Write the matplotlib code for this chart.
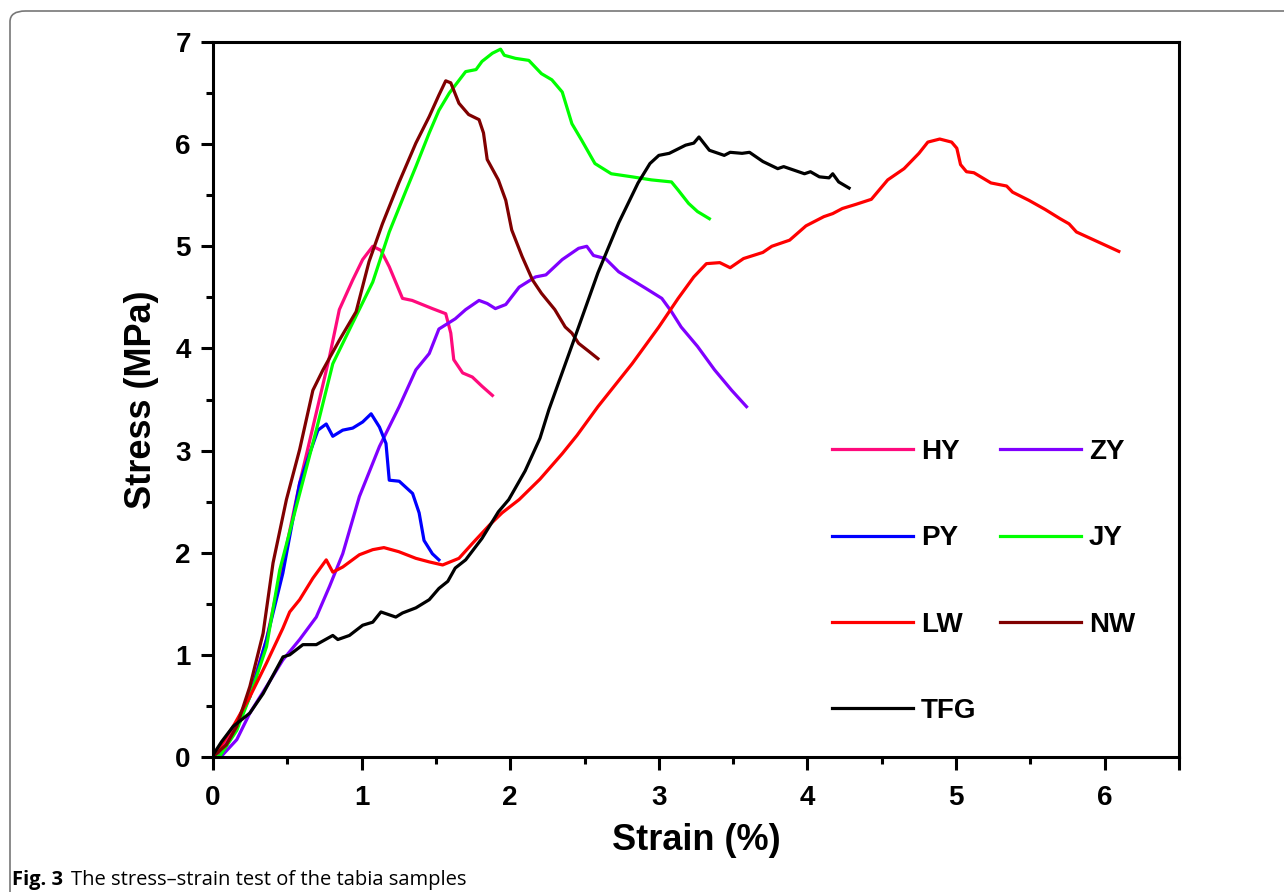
import matplotlib
matplotlib.use("Agg")
import matplotlib.pyplot as plt
from matplotlib.patches import FancyBboxPatch
from matplotlib.ticker import MultipleLocator

# strain (%) / stress (MPa)
hy_x = [0.0, 0.025, 0.136, 0.248, 0.36, 0.494, 0.583, 0.695, 0.784, 0.85, 0.94, 1.007, 1.075,
        1.13, 1.186, 1.275, 1.34, 1.476, 1.566, 1.60, 1.62, 1.68, 1.745, 1.81, 1.88]
hy_y = [0.0, 0.01, 0.26, 0.62, 1.15, 2.06, 2.68, 3.37, 3.92, 4.38, 4.67, 4.87, 5.00,
        4.96, 4.80, 4.49, 4.47, 4.39, 4.34, 4.15, 3.89, 3.76, 3.72, 3.63, 3.54]

zy_x = [0.0, 0.058, 0.16, 0.248, 0.36, 0.47, 0.583, 0.695, 0.784, 0.873, 0.985, 1.12, 1.253,
        1.365, 1.455, 1.52, 1.63, 1.70, 1.79, 1.845, 1.90, 1.97, 2.06, 2.17, 2.24, 2.35,
        2.46, 2.515, 2.56, 2.64, 2.73, 2.82, 2.91, 3.02, 3.085, 3.15, 3.26, 3.375, 3.49, 3.59]
zy_y = [0.0, 0.01, 0.17, 0.43, 0.69, 0.95, 1.15, 1.37, 1.67, 1.99, 2.55, 3.04, 3.43,
        3.79, 3.95, 4.19, 4.29, 4.38, 4.47, 4.44, 4.39, 4.43, 4.60, 4.70, 4.72, 4.87,
        4.98, 5.00, 4.91, 4.88, 4.75, 4.67, 4.59, 4.49, 4.36, 4.21, 4.02, 3.79, 3.59, 3.43]

py_x = [0.0, 0.047, 0.136, 0.248, 0.36, 0.47, 0.583, 0.65, 0.706, 0.762, 0.806, 0.873, 0.94,
        1.007, 1.064, 1.12, 1.164, 1.186, 1.253, 1.343, 1.387, 1.42, 1.476, 1.52]
py_y = [0.0, 0.01, 0.23, 0.59, 1.15, 1.80, 2.68, 2.97, 3.20, 3.26, 3.14, 3.20, 3.22,
        3.28, 3.36, 3.23, 3.07, 2.71, 2.70, 2.58, 2.39, 2.12, 1.99, 1.93]

jy_x = [0.0, 0.047, 0.16, 0.248, 0.36, 0.449, 0.56, 0.695, 0.806, 0.94, 1.075, 1.186, 1.30,
        1.365, 1.455, 1.52, 1.59, 1.70, 1.77, 1.81, 1.88, 1.935, 1.96, 2.035, 2.125, 2.21,
        2.28, 2.35, 2.415, 2.48, 2.57, 2.68, 2.82, 2.95, 3.085, 3.13, 3.20, 3.26, 3.34]
jy_y = [0.0, 0.01, 0.26, 0.59, 1.08, 1.83, 2.45, 3.20, 3.85, 4.25, 4.65, 5.14, 5.55,
        5.78, 6.11, 6.33, 6.50, 6.71, 6.73, 6.81, 6.89, 6.93, 6.87, 6.84, 6.82, 6.69,
        6.63, 6.51, 6.20, 6.04, 5.81, 5.71, 5.68, 5.65, 5.63, 5.55, 5.42, 5.34, 5.27]

lw_x = [0.0, 0.136, 0.248, 0.36, 0.47, 0.516, 0.583, 0.672, 0.762, 0.806, 0.873, 0.985, 1.075,
        1.15, 1.25, 1.365, 1.455, 1.545, 1.655, 1.745, 1.86, 1.945, 2.06, 2.2, 2.35, 2.45,
        2.59, 2.82, 3.00, 3.13, 3.235, 3.32, 3.41, 3.48, 3.57, 3.70, 3.76, 3.88, 3.99, 4.11,
        4.17, 4.235, 4.325, 4.43, 4.54, 4.65, 4.75, 4.81, 4.89, 4.97, 5.005, 5.03, 5.07,
        5.12, 5.235, 5.34, 5.38, 5.49, 5.60, 5.70, 5.76, 5.81, 5.90, 6.005, 6.095]
lw_y = [0.0, 0.30, 0.59, 0.92, 1.26, 1.42, 1.54, 1.75, 1.93, 1.81, 1.86, 1.98, 2.03,
        2.05, 2.01, 1.945, 1.91, 1.88, 1.945, 2.09, 2.27, 2.39, 2.52, 2.72, 2.97, 3.15,
        3.43, 3.85, 4.21, 4.49, 4.70, 4.83, 4.84, 4.79, 4.88, 4.94, 5.00, 5.06, 5.20, 5.29,
        5.32, 5.37, 5.41, 5.46, 5.65, 5.76, 5.91, 6.02, 6.05, 6.02, 5.96, 5.80, 5.73,
        5.72, 5.62, 5.59, 5.53, 5.45, 5.36, 5.27, 5.22, 5.14, 5.08, 5.01, 4.95]

nw_x = [0.0, 0.013, 0.09, 0.16, 0.248, 0.337, 0.404, 0.494, 0.583, 0.672, 0.74, 0.85, 0.963,
        1.05, 1.14, 1.25, 1.365, 1.455, 1.52, 1.566, 1.60, 1.655, 1.72, 1.79, 1.82, 1.845,
        1.92, 1.97, 2.01, 2.08, 2.15, 2.21, 2.30, 2.37, 2.415, 2.46, 2.53, 2.59]
nw_y = [0.0, 0.02, 0.12, 0.30, 0.69, 1.21, 1.90, 2.52, 3.01, 3.59, 3.79, 4.08, 4.36,
        4.85, 5.22, 5.62, 6.01, 6.27, 6.48, 6.62, 6.60, 6.40, 6.29, 6.24, 6.11, 5.85,
        5.65, 5.45, 5.16, 4.90, 4.67, 4.54, 4.38, 4.21, 4.15, 4.05, 3.97, 3.90]

tfg_x = [0.0, 0.058, 0.136, 0.248, 0.337, 0.471, 0.516, 0.605, 0.695, 0.806, 0.84, 0.918,
         1.007, 1.075, 1.13, 1.23, 1.275, 1.365, 1.455, 1.52, 1.58, 1.63, 1.70, 1.81, 1.92,
         1.99, 2.1, 2.2, 2.26, 2.46, 2.59, 2.73, 2.86, 2.94, 3.00, 3.07, 3.18, 3.235, 3.27,
         3.34, 3.44, 3.48, 3.56, 3.61, 3.70, 3.80, 3.84, 3.90, 3.98, 4.02, 4.08, 4.145,
         4.17, 4.21, 4.28]
tfg_y = [0.02, 0.15, 0.30, 0.43, 0.62, 0.98, 1.00, 1.10, 1.10, 1.19, 1.15, 1.19,
         1.29, 1.32, 1.42, 1.37, 1.41, 1.46, 1.54, 1.65, 1.72, 1.85, 1.93, 2.14, 2.40,
         2.52, 2.80, 3.12, 3.40, 4.21, 4.74, 5.23, 5.62, 5.81, 5.89, 5.91, 5.99, 6.01, 6.07,
         5.94, 5.89, 5.92, 5.91, 5.92, 5.83, 5.76, 5.78, 5.75, 5.71, 5.73, 5.68, 5.67,
         5.71, 5.63, 5.57]

names = ["HY", "ZY", "PY", "JY", "LW", "NW", "TFG"]
colors = ["#FF0A7C", "#8000FF", "#0000FF", "#00FF00", "#FF0000", "#800000", "#000000"]
series = [(hy_x, hy_y), (zy_x, zy_y), (py_x, py_y), (jy_x, jy_y),
          (lw_x, lw_y), (nw_x, nw_y), (tfg_x, tfg_y)]

plt.rcParams['font.family'] = ['Liberation Sans', 'DejaVu Sans']
plt.rcParams['font.weight'] = 'bold'

W, H = 1284, 892
fig = plt.figure(figsize=(W / 100, H / 100), dpi=100)
ax = fig.add_axes([213 / W, 1 - 757 / H, (1179 - 213) / W, (757 - 42) / H])

lines = {}
for name, col, (xs, ys) in zip(names, colors, series):
    lines[name], = ax.plot(xs, ys, color=col, lw=2.3, label=name)

ax.set_xlim(0, 6.5)
ax.set_ylim(0, 7)
ax.xaxis.set_minor_locator(MultipleLocator(0.5))
ax.yaxis.set_major_locator(MultipleLocator(1))
ax.yaxis.set_minor_locator(MultipleLocator(0.5))
ax.set_xticks([0, 1, 2, 3, 4, 5, 6, 6.5])
ax.set_xticklabels(["0", "1", "2", "3", "4", "5", "6", ""])
ax.tick_params(which='major', direction='out', length=9, width=2.2, labelsize=20, pad=7)
ax.tick_params(which='minor', direction='out', length=5, width=2.2)
ax.tick_params(axis='x', which='major', pad=11)
for s in ax.spines.values():
    s.set_linewidth(2.2)

ax.set_xlabel("Strain (%)", fontsize=26, fontweight='bold', labelpad=9)
ax.set_ylabel("Stress (MPa)", fontsize=26, fontweight='bold', labelpad=12)

# legend, two columns filled column-wise
order = ["HY", "PY", "LW", "TFG", "ZY", "JY", "NW"]
ax.legend([lines[n] for n in order], order, ncol=2, frameon=False, fontsize=20,
          handlelength=2.9, handletextpad=0.3, columnspacing=0.85, labelspacing=2.17,
          borderpad=0, borderaxespad=0, loc='upper left',
          bbox_to_anchor=(832 / W, 1 - 439 / H), bbox_transform=fig.transFigure)

# page frame and caption
frame = FancyBboxPatch((10 / W, -0.05), 1.2, 1.05 - 11 / H,
                       boxstyle="round,pad=0,rounding_size=0.012",
                       transform=fig.transFigure, fill=False, edgecolor='#777777', lw=1.2)
fig.patches.append(frame)

t1 = fig.text(12 / W, 1 - 885 / H, "Fig. 3", fontsize=14.5, fontweight='bold',
              family=['Open Sans', 'DejaVu Sans'], va='baseline')
fig.canvas.draw()
bb = t1.get_window_extent()
fig.text((bb.x1 + 8) / W, 1 - 885 / H, "The stress\u2013strain test of the tabia samples",
         fontsize=14.5, fontweight='normal', family=['Open Sans', 'DejaVu Sans'], va='baseline')

fig.savefig("out.png", dpi=100)
